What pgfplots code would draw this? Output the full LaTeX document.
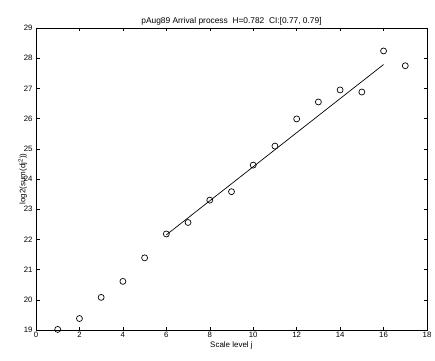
\documentclass[border=0pt]{standalone}
\usepackage{pgfplots}
\pgfplotsset{compat=1.18}
\usepackage{fontspec}
\setmainfont{Liberation Sans}
\begin{document}
\begin{tikzpicture}
\begin{axis}[
  name=ax,
  scale only axis,
  width=391bp, height=302bp,
  xmin=0, xmax=18, ymin=19, ymax=29,
  xtick={0,2,...,18}, ytick={19,20,...,29},
  tick align=inside,
  major tick length=3.5bp,
  tick style={black, line width=0.5pt},
  axis line style={line width=0.6pt},
  /pgf/number format/assume math mode=true,
  tick label style={font=\fontsize{7.8}{9}\selectfont},
  xticklabel style={yshift=1bp},
  label style={font=\fontsize{8}{9}\selectfont},
  xlabel={Scale level j},
  ylabel={log2(sum(dj\textsuperscript{2}))},
  xlabel style={yshift=3bp},
  ylabel style={yshift=-10bp},
  title={pAug89 Arrival process \ H=0.782 \ CI:[0.77, 0.79]},
  title style={font=\fontsize{8.4}{9}\selectfont, yshift=-7bp},
]
\addplot[only marks, mark=o, mark size=3bp, mark options={line width=0.7pt}] coordinates {
(1,19.02) (2,19.38) (3,20.08) (4,20.61) (5,21.39) (6,22.18) (7,22.56)
(8,23.30) (9,23.58) (10,24.46) (11,25.09) (12,25.99) (13,26.55)
(14,26.95) (15,26.88) (16,28.24) (17,27.75)
};
\addplot[black, line width=0.7pt] coordinates {(6,22.15) (16,27.79)};
\end{axis}
\path ([xshift=-36bp,yshift=-31bp]ax.south west) rectangle ([xshift=8bp,yshift=28bp]ax.north east);
\end{tikzpicture}
\end{document}
